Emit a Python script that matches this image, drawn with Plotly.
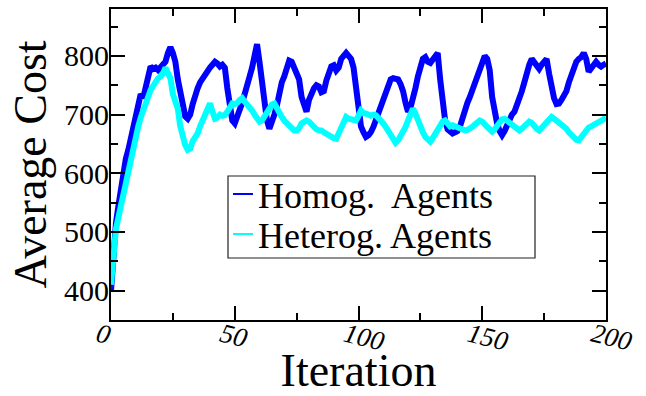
import plotly.graph_objects as go

# Iteration index (0..200)
iterations = list(range(0, 201))

# Average cost, homogeneous agents
homog_cost = [
    400, 470, 515, 545, 575, 605, 625, 640, 660, 680,
    700, 715, 735, 728, 750, 765, 782, 778, 780, 776,
    782, 785, 790, 805, 815, 805, 790, 760, 740, 715,
    697, 693, 700, 718, 735, 745, 755, 762, 770, 776,
    780, 785, 790, 787, 782, 785, 780, 745, 715, 690,
    685, 695, 707, 720, 735, 747, 765, 780, 800, 820,
    790, 750, 710, 690, 676, 685, 700, 715, 740, 755,
    765, 780, 792, 790, 780, 776, 760, 730, 712, 705,
    725, 738, 745, 750, 748, 738, 740, 758, 770, 782,
    784, 775, 780, 795, 800, 805, 800, 795, 780, 740,
    700, 680, 670, 662, 665, 670, 679, 690, 705, 715,
    730, 740, 752, 760, 762, 762, 760, 752, 740, 720,
    705, 712, 725, 745, 765, 780, 795, 798, 790, 788,
    795, 800, 805, 760, 710, 690, 675, 670, 668, 670,
    672, 680, 695, 707, 720, 730, 742, 755, 770, 780,
    790, 800, 795, 776, 730, 700, 685, 672, 665, 672,
    683, 690, 700, 705, 715, 725, 740, 755, 772, 785,
    795, 790, 782, 778, 785, 790, 795, 770, 745, 728,
    718, 719, 725, 733, 740, 755, 768, 780, 790, 795,
    798, 805, 795, 773, 778, 785, 790, 785, 782, 785,
    787,
]

# Average cost, heterogeneous agents
heterog_cost = [
    410, 470, 505, 525, 545, 565, 590, 608, 625, 645,
    660, 680, 695, 705, 718, 730, 742, 750, 755, 762,
    765, 770, 780, 770, 762, 735, 720, 710, 680, 660,
    648, 640, 642, 655, 660, 668, 680, 690, 700, 710,
    719, 705, 693, 695, 700, 698, 699, 705, 712, 719,
    718, 720, 725, 728, 722, 718, 712, 707, 700, 695,
    688, 690, 697, 705, 712, 717, 719, 710, 700, 696,
    690, 685, 680, 677, 673, 673, 677, 685, 688, 690,
    688, 683, 678, 675, 673, 673, 670, 667, 665, 662,
    660, 659, 668, 680, 690, 696, 693, 692, 690, 690,
    698, 707, 703, 700, 700, 698, 700, 699, 695, 690,
    685, 679, 672, 665, 655, 652, 656, 663, 670, 679,
    690, 700, 710, 702, 690, 680, 670, 662, 657, 654,
    660, 668, 676, 684, 688, 690, 684, 680, 682, 680,
    678, 675, 673, 673, 674, 676, 679, 683, 686, 690,
    688, 682, 679, 675, 671, 675, 680, 686, 692, 693,
    690, 686, 682, 678, 675, 673, 676, 680, 684, 688,
    686, 680, 676, 673, 678, 684, 688, 692, 696, 693,
    690, 686, 682, 679, 676, 670, 665, 660, 657, 656,
    662, 670, 676, 678, 680, 682, 684, 686, 688, 692,
    696,
]

series_names = ["Homog.\u00a0 Agents", "Heterog. Agents"]
series_colors = ["#0000ff", "#00ffff"]

x_ticks = [0, 50, 100, 150, 200]
y_ticks = [400, 500, 600, 700, 800]

SERIF = "Liberation Serif"

fig = go.Figure()
for name, values, color in zip(series_names, [homog_cost, heterog_cost], series_colors):
    fig.add_trace(go.Scatter(
        x=iterations, y=values, mode="lines", name=name,
        line=dict(color=color, width=6), showlegend=False,
    ))

axis_common = dict(
    showgrid=False, zeroline=False, automargin=False,
    showline=True, linecolor="black", linewidth=2,
    mirror="allticks", ticks="inside", ticklen=14, tickwidth=2, tickcolor="black",
)

fig.update_xaxes(
    **axis_common,
    range=[0, 200], tickvals=x_ticks, ticktext=[str(v) for v in x_ticks],
    minor=dict(dtick=25, ticklen=7, tickwidth=2, tickcolor="black", ticks="inside"),
    tickfont=dict(family=SERIF, size=27, color="black", style="italic"),
    tickangle=14, ticklabelshift=-13, ticklabelstandoff=-13,
    title=dict(text="Iteration", font=dict(family=SERIF, size=46, color="black"), standoff=20),
)
fig.update_yaxes(
    **axis_common,
    range=[350, 880], tickvals=y_ticks, ticktext=[str(v) for v in y_ticks],
    minor=dict(dtick=50, ticklen=7, tickwidth=2, tickcolor="black", ticks="inside"),
    tickfont=dict(family=SERIF, size=30, color="black"),
    ticklabelstandoff=-6,
    title=dict(text="Average Cost", font=dict(family=SERIF, size=46, color="black"), standoff=3),
)

# Legend box drawn in paper coordinates: frame, short line keys and labels
plot_left, plot_width = 111, 495
plot_bottom, plot_height = 320, 311


def px_x(p):
    return (p - plot_left) / plot_width


def px_y(p):
    return (plot_bottom - p) / plot_height


fig.add_shape(type="rect", xref="paper", yref="paper",
              x0=px_x(228), x1=px_x(535), y0=px_y(258), y1=px_y(176),
              line=dict(color="#222222", width=1.2), fillcolor="white", layer="above")
row_y = [194, 234]
for name, color, ry in zip(series_names, series_colors, row_y):
    fig.add_shape(type="line", xref="paper", yref="paper",
                  x0=px_x(233), x1=px_x(253), y0=px_y(ry), y1=px_y(ry),
                  line=dict(color=color, width=2), layer="above")
    fig.add_annotation(xref="paper", yref="paper", x=px_x(256), y=px_y(ry + 2),
                       xanchor="left", yanchor="middle", showarrow=False,
                       text=name, font=dict(family=SERIF, size=36, color="black"))

fig.update_layout(
    width=646, height=396,
    margin=dict(l=111, r=40, t=9, b=76, autoexpand=False),
    paper_bgcolor="white", plot_bgcolor="white",
    font=dict(family=SERIF, color="black"),
    showlegend=False,
)

fig.write_html("out.html")
